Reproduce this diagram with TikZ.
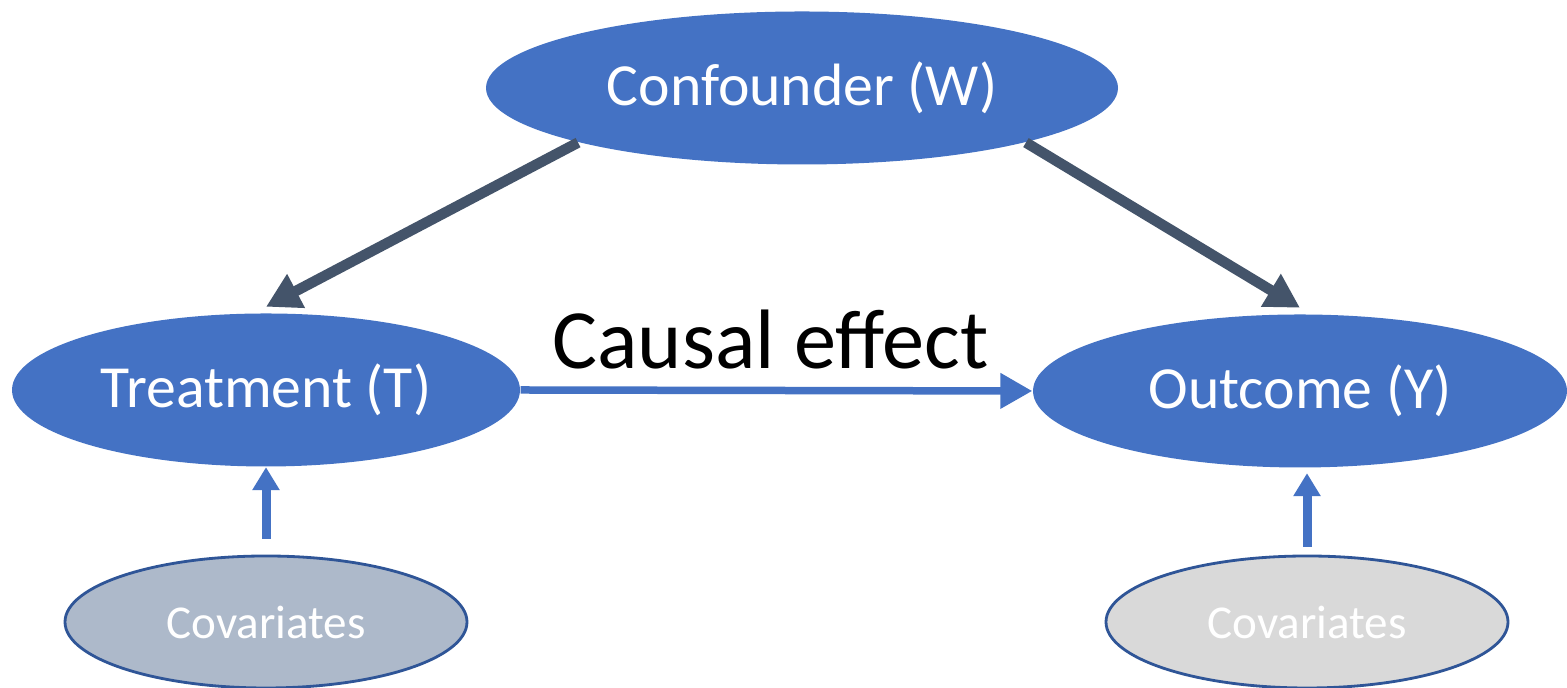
\documentclass[tikz,border=0pt]{standalone}
\usepackage{fontspec}
\setmainfont{Carlito}
\usetikzlibrary{arrows.meta,shapes.geometric}

\definecolor{varblue}{HTML}{4472C4}
\definecolor{slate}{HTML}{44546A}
\definecolor{covedge}{HTML}{2F5597}
\definecolor{covblue}{HTML}{ADB9CA}
\definecolor{covgray}{HTML}{D9D9D9}

\begin{document}
\begin{tikzpicture}[
    var/.style={ellipse, fill=varblue, text=white, inner sep=0pt, minimum height=1.53cm, font=\fontsize{17}{20}\selectfont},
    cov/.style={ellipse, draw=covedge, line width=0.8pt, text=white, inner sep=0pt, minimum width=4.02cm, minimum height=1.32cm, font=\fontsize{13.4}{16}\selectfont},
    arr/.style={-{Triangle[length=0.34cm, width=0.36cm]}, line width=0.105cm, slate},
    eff/.style={-{Triangle[length=0.32cm, width=0.34cm]}, line width=0.075cm, varblue},
    up/.style={-{Triangle[length=0.23cm, width=0.26cm]}, line width=0.09cm, varblue}
]
\useasboundingbox[fill=white] (0,0) rectangle (15.67,6.88);

\node[var, minimum width=6.32cm] (conf) at (8.02,6.00) {Confounder (W)};
\node[var, minimum width=5.08cm] (treat) at (2.66,2.98) {Treatment (T)};
\node[var, minimum width=5.34cm] (out) at (13.00,2.97) {Outcome (Y)};

\node[cov, fill=covblue] (covt) at (2.66,0.66) {Covariates};
\node[cov, fill=covgray] (covy) at (13.07,0.66) {Covariates};

\draw[arr] (conf.south west) -- ([yshift=0.06cm]treat.north);
\draw[arr] (conf.south east) -- ([yshift=0.06cm]out.north);
\draw[eff] (treat.east) -- node[above, inner sep=5pt, xshift=-0.06cm, black, font=\fontsize{24}{28}\selectfont] {Causal effect} (out.west);

\draw[up] ([yshift=0.16cm]covt.north) -- (treat.south);
\draw[up] ([yshift=0.08cm]covy.north) -- ([xshift=0.07cm,yshift=-0.05cm]out.south);
\end{tikzpicture}
\end{document}
